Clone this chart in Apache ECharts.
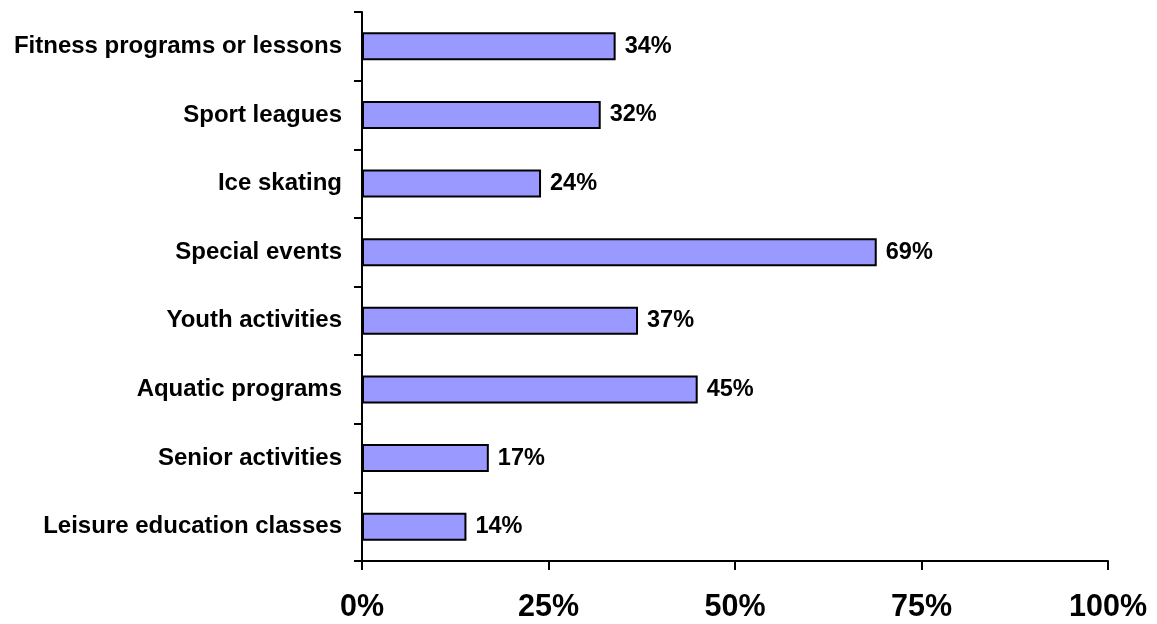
<!DOCTYPE html>
<html>
<head>
<meta charset="utf-8">
<script src="https://cdn.jsdelivr.net/npm/echarts@6/dist/echarts.min.js"></script>
<style>
  html, body { margin: 0; padding: 0; background: #fff; }
  #chart { width: 1157px; height: 624px; }
</style>
</head>
<body>
<div id="chart"></div>
<script>
// Activity categories, listed bottom to top along the y axis
const categories = [
  'Leisure education classes',
  'Senior activities',
  'Aquatic programs',
  'Youth activities',
  'Special events',
  'Ice skating',
  'Sport leagues',
  'Fitness programs or lessons'
];
// Share of respondents, percent
const values = [14, 17, 45, 37, 69, 24, 32, 34];
// X axis tick values, percent
const xTicks = [0, 25, 50, 75, 100];

const font = '"Liberation Sans", Arial, sans-serif';
const chart = echarts.init(document.getElementById('chart'), null, { renderer: 'canvas' });

chart.setOption({
  animation: false,
  backgroundColor: '#ffffff',
  grid: { left: 362, right: 49, top: 12, bottom: 63, containLabel: false },
  xAxis: {
    type: 'value',
    min: xTicks[0],
    max: xTicks[xTicks.length - 1],
    interval: xTicks[1] - xTicks[0],
    axisLine: { show: true, lineStyle: { color: '#000', width: 2 } },
    axisTick: { show: true, length: 9, lineStyle: { color: '#000', width: 2 } },
    splitLine: { show: false },
    axisLabel: {
      formatter: v => v + '%',
      color: '#000',
      fontFamily: font,
      fontWeight: 'bold',
      fontSize: 30.5,
      margin: 31
    }
  },
  yAxis: {
    type: 'category',
    data: categories,
    axisLine: { show: true, lineStyle: { color: '#000', width: 2 } },
    axisTick: { show: true, length: 8, alignWithLabel: false, lineStyle: { color: '#000', width: 2 } },
    axisLabel: {
      color: '#000',
      fontFamily: font,
      fontWeight: 'bold',
      fontSize: 24,
      margin: 20
    }
  },
  series: [{
    type: 'bar',
    data: values,
    barWidth: 28,
    itemStyle: { color: '#9999ff', borderColor: '#000', borderWidth: 2 },
    label: {
      show: true,
      position: 'right',
      distance: 9,
      formatter: p => p.value + '%',
      color: '#000',
      fontFamily: font,
      fontWeight: 'bold',
      fontSize: 23.5
    }
  }]
});
</script>
</body>
</html>
